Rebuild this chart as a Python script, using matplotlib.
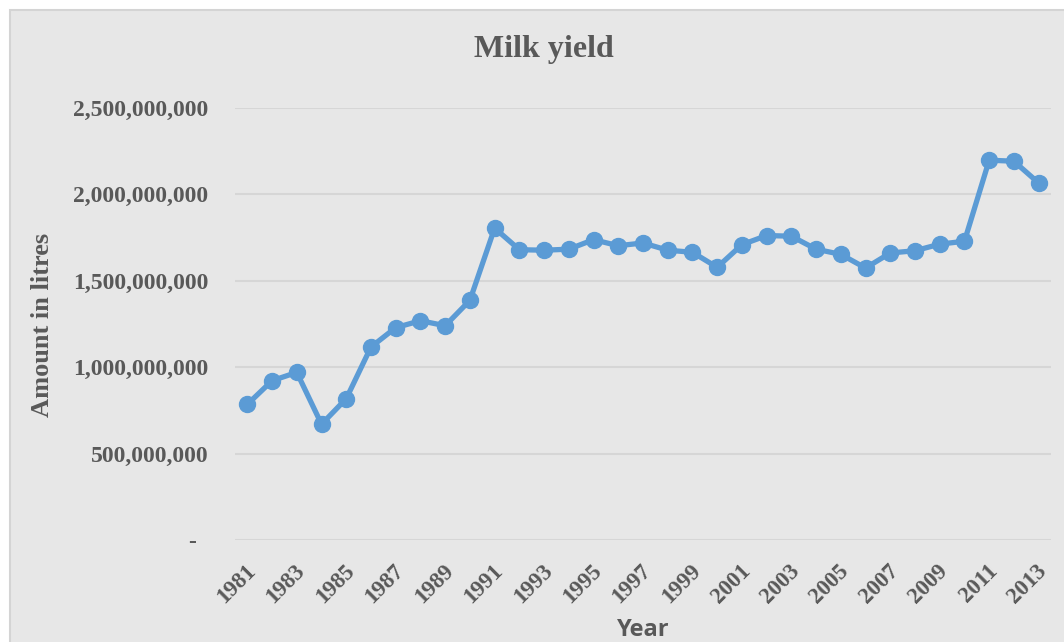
import matplotlib.pyplot as plt
from matplotlib.patches import Rectangle
from matplotlib.ticker import FuncFormatter
from matplotlib.transforms import ScaledTranslation

years = list(range(1981, 2014))
milk_litres = [
    785e6, 922e6, 970e6, 670e6, 818e6, 1117e6, 1229e6, 1269e6, 1240e6, 1387e6,
    1805e6, 1680e6, 1677e6, 1683e6, 1738e6, 1703e6, 1719e6, 1677e6, 1665e6, 1578e6,
    1709e6, 1762e6, 1758e6, 1683e6, 1653e6, 1574e6, 1661e6, 1674e6, 1712e6, 1729e6,
    2198e6, 2192e6, 2066e6,
]
y_ticks = [0, 500e6, 1000e6, 1500e6, 2000e6, 2500e6]

TEXT = '#595959'
BLUE = '#5b9bd5'
SERIF = ['Liberation Serif', 'DejaVu Serif']

fig = plt.figure(figsize=(10.64, 6.42), dpi=100)
fig.patch.set_facecolor('white')
# grey chart area, as pasted from the spreadsheet
fig.patches.append(Rectangle((10 / 1064, -0.05), 1.1, 1.05 - 10 / 642,
                             transform=fig.transFigure, facecolor='#e7e7e7',
                             edgecolor='#d4d4d4', linewidth=1.5, zorder=-5))

ax = fig.add_axes([235 / 1064, 102 / 642, 816 / 1064, 432 / 642])
ax.set_facecolor('none')
ax.plot(years, milk_litres, color=BLUE, linewidth=3.8, marker='o',
        markersize=11.5, zorder=3)

ax.set_xlim(1980.5, 2013.5)
ax.set_ylim(0, 2.5e9)
ax.set_yticks(y_ticks)
ax.yaxis.set_major_formatter(FuncFormatter(lambda v, p: '-  ' if v == 0 else f'{int(v):,}'))
ax.set_xticks(years[::2])
ax.set_xticklabels([str(y) for y in years[::2]])
ax.grid(axis='y', color='#d6d6d6', linewidth=1.5)
ax.set_axisbelow(True)
for s in ax.spines.values():
    s.set_visible(False)

ax.tick_params(axis='y', length=0, pad=19, labelsize=17, labelcolor=TEXT)
ax.tick_params(axis='x', length=0, pad=20, labelsize=16.5, labelcolor=TEXT)
for lbl in ax.get_yticklabels():
    lbl.set_family(SERIF)
    lbl.set_fontweight('bold')
shift = ScaledTranslation(5 / 100, 0, fig.dpi_scale_trans)
for lbl in ax.get_xticklabels():
    lbl.set_family(SERIF)
    lbl.set_fontweight('bold')
    lbl.set_rotation(45)
    lbl.set_rotation_mode('anchor')
    lbl.set_ha('right')
    lbl.set_va('center')
    lbl.set_transform(lbl.get_transform() + shift)

fig.text(544 / 1064, 1 - 49 / 642, 'Milk yield', ha='center', va='center',
         fontsize=23, fontweight='bold', color=TEXT, family=SERIF)
fig.text(43 / 1064, 1 - 325 / 642, 'Amount in litres', ha='center', va='center',
         rotation=90, fontsize=19, fontweight='bold', color=TEXT, family=SERIF)
fig.text(643 / 1064, 1 - 630 / 642, 'Year', ha='center', va='center',
         fontsize=17, fontweight='bold', color=TEXT, family=['Open Sans', 'DejaVu Sans'])

fig.savefig('out.png', dpi=100)
